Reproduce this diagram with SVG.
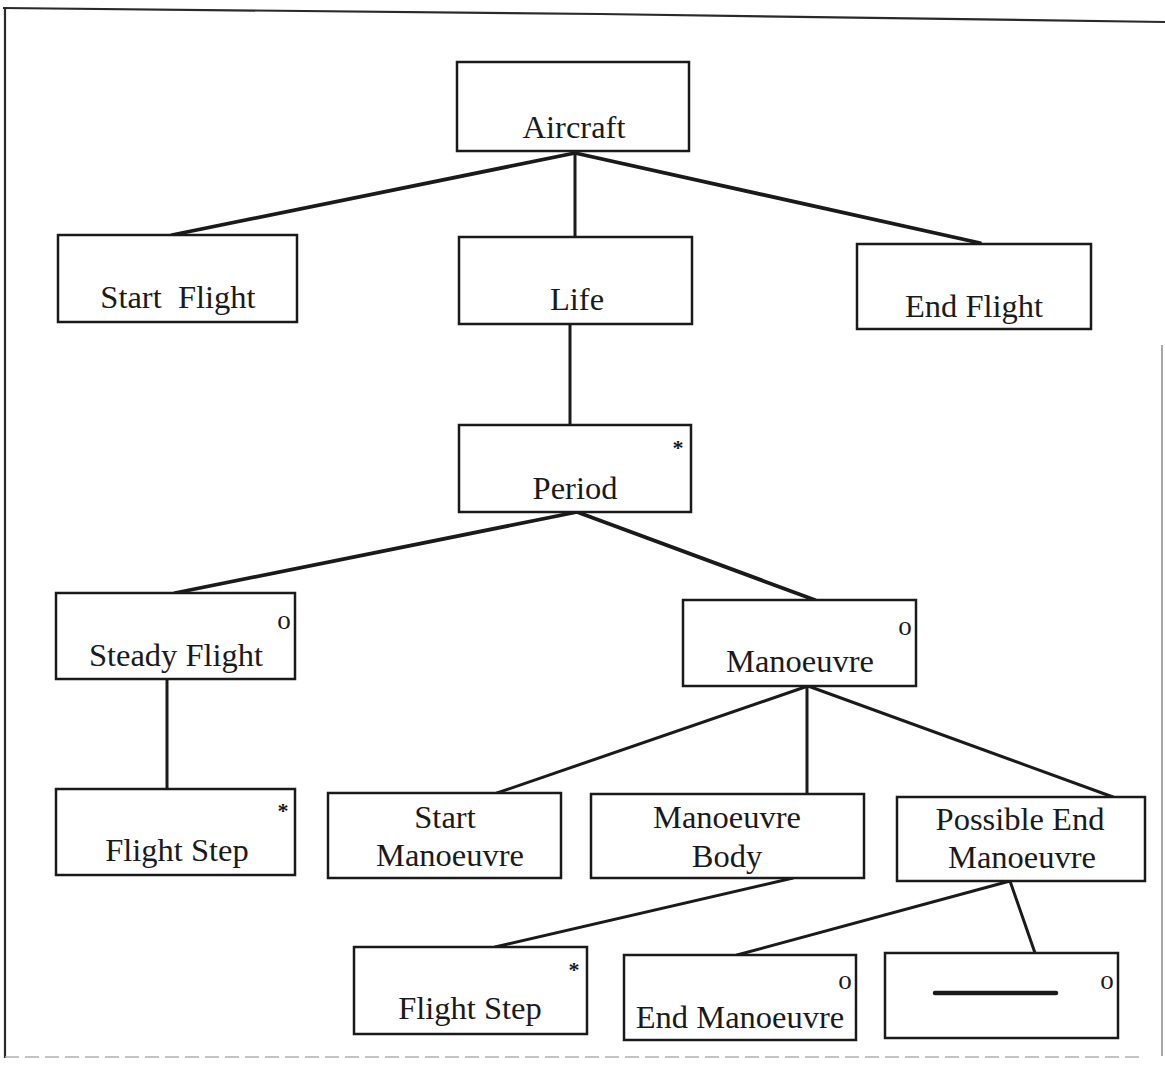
<svg xmlns="http://www.w3.org/2000/svg" width="1165" height="1066" viewBox="0 0 1165 1066">
  <style>
    .box { fill: #ffffff; stroke: #1a1a1a; stroke-width: 2.5; }
    .lbl { font-family: "Liberation Serif", "Times New Roman", serif; font-size: 32.5px; fill: #1a1a1a; text-anchor: middle; }
    .mark { font-family: "Liberation Serif", "Times New Roman", serif; font-size: 27px; fill: #1a1a1a; text-anchor: middle; }
    .star { font-family: "Liberation Serif", "Times New Roman", serif; font-size: 22px; font-weight: bold; fill: #1a1a1a; text-anchor: middle; }
    .edge { stroke: #1a1a1a; stroke-width: 3; fill: none; stroke-linecap: round; }
    .edge.heavy { stroke-width: 3.8; }
    .frame { stroke: #2a2a2a; stroke-width: 2.2; fill: none; }
  </style>

  <rect x="0" y="0" width="1165" height="1066" fill="#ffffff"/>

  <!-- page frame -->
  <g id="frame">
    <path class="frame" d="M3 8 L600 14 L1165 22"/>
    <line class="frame" x1="5" y1="8" x2="5" y2="1058"/>
    <line x1="1162" y1="345" x2="1162" y2="1056" stroke="#8a8a8a" stroke-width="1.5"/>
    <line x1="5" y1="1057" x2="1140" y2="1057" stroke="#b0b0b0" stroke-width="1.5" stroke-dasharray="14 6"/>
  </g>

  <!-- connectors -->
  <g id="connectors">
    <line class="edge heavy" x1="575" y1="153" x2="172" y2="235"/>
    <line class="edge" x1="575" y1="153" x2="575" y2="237"/>
    <line class="edge heavy" x1="575" y1="153" x2="980" y2="243"/>
    <line class="edge" x1="570" y1="323" x2="570" y2="425"/>
    <line class="edge heavy" x1="577" y1="512" x2="175" y2="593"/>
    <line class="edge heavy" x1="577" y1="512" x2="815" y2="600"/>
    <line class="edge" x1="167" y1="679" x2="167" y2="789"/>
    <line class="edge" x1="808" y1="686" x2="497" y2="793"/>
    <line class="edge" x1="807" y1="686" x2="807" y2="794"/>
    <line class="edge" x1="808" y1="686" x2="1113" y2="797"/>
    <line class="edge" x1="793" y1="878" x2="495" y2="947"/>
    <line class="edge" x1="1010" y1="881" x2="737" y2="955"/>
    <line class="edge" x1="1010" y1="881" x2="1035" y2="953"/>
  </g>

  <g id="aircraft">
    <rect class="box" x="457" y="62" width="232" height="89"/>
    <text class="lbl" x="574" y="138">Aircraft</text>
  </g>

  <g id="start-flight">
    <rect class="box" x="58" y="235" width="239" height="87"/>
    <text class="lbl" x="178" y="308" xml:space="preserve">Start  Flight</text>
  </g>

  <g id="life">
    <rect class="box" x="459" y="237" width="233" height="87"/>
    <text class="lbl" x="577" y="310">Life</text>
  </g>

  <g id="end-flight">
    <rect class="box" x="857" y="244" width="234" height="85"/>
    <text class="lbl" x="974" y="317">End Flight</text>
  </g>

  <g id="period">
    <rect class="box" x="459" y="425" width="232" height="87"/>
    <text class="star" x="678" y="455">*</text>
    <text class="lbl" x="575" y="499">Period</text>
  </g>

  <g id="steady-flight">
    <rect class="box" x="56" y="593" width="239" height="86"/>
    <text class="mark" x="284" y="629">o</text>
    <text class="lbl" x="176" y="666">Steady Flight</text>
  </g>

  <g id="manoeuvre">
    <rect class="box" x="683" y="600" width="233" height="86"/>
    <text class="mark" x="905" y="635">o</text>
    <text class="lbl" x="800" y="672">Manoeuvre</text>
  </g>

  <g id="flight-step-1">
    <rect class="box" x="56" y="789" width="239" height="86"/>
    <text class="star" x="283" y="818">*</text>
    <text class="lbl" x="177" y="861">Flight Step</text>
  </g>

  <g id="start-manoeuvre">
    <rect class="box" x="328" y="793" width="233" height="85"/>
    <text class="lbl" x="445" y="828">Start</text>
    <text class="lbl" x="450" y="866">Manoeuvre</text>
  </g>

  <g id="manoeuvre-body">
    <rect class="box" x="591" y="794" width="273" height="84"/>
    <text class="lbl" x="727" y="828">Manoeuvre</text>
    <text class="lbl" x="727" y="867">Body</text>
  </g>

  <g id="possible-end-manoeuvre">
    <rect class="box" x="897" y="797" width="248" height="84"/>
    <text class="lbl" x="1020" y="830">Possible End</text>
    <text class="lbl" x="1022" y="868">Manoeuvre</text>
  </g>

  <g id="flight-step-2">
    <rect class="box" x="354" y="947" width="233" height="87"/>
    <text class="star" x="574" y="977">*</text>
    <text class="lbl" x="470" y="1019">Flight Step</text>
  </g>

  <g id="end-manoeuvre">
    <rect class="box" x="624" y="955" width="232" height="85"/>
    <text class="mark" x="845" y="989">o</text>
    <text class="lbl" x="740" y="1028">End Manoeuvre</text>
  </g>

  <g id="empty-alternative">
    <rect class="box" x="885" y="953" width="233" height="85"/>
    <line x1="935" y1="993" x2="1056" y2="993" stroke="#1a1a1a" stroke-width="4.5" stroke-linecap="round"/>
    <text class="mark" x="1107" y="989">o</text>
  </g>
</svg>
